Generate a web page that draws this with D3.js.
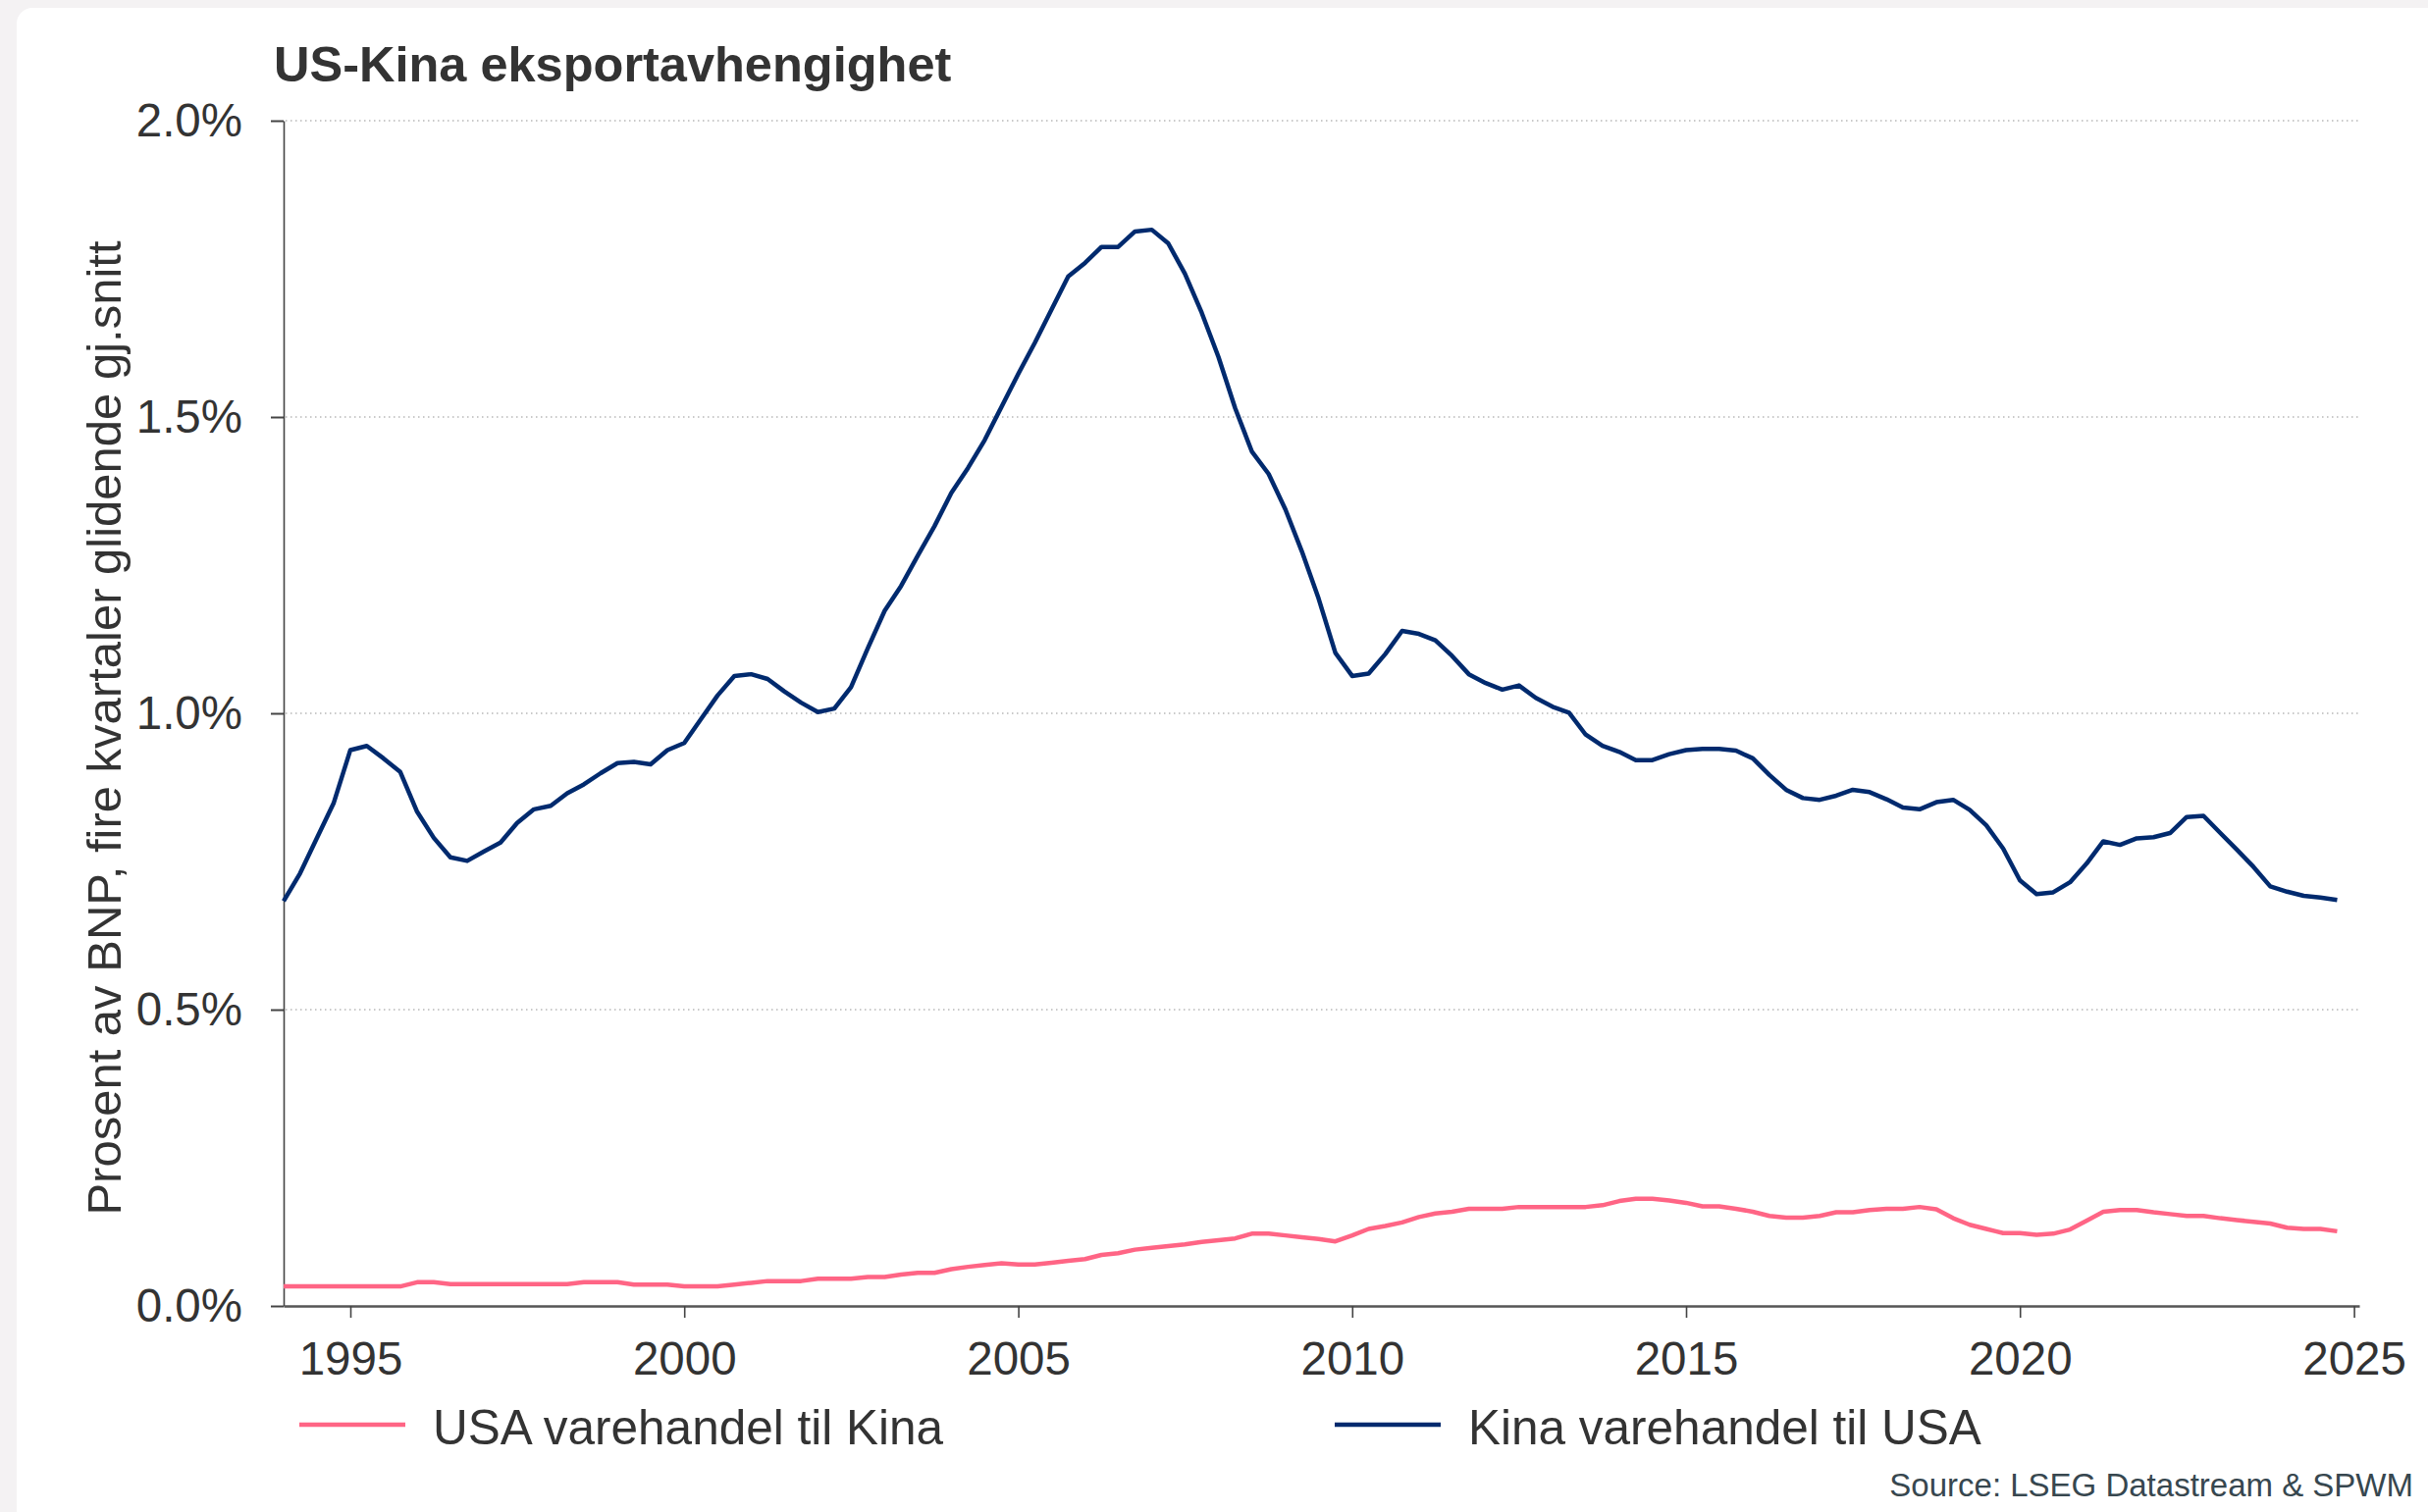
<!DOCTYPE html>
<html>
<head>
<meta charset="utf-8">
<script src="https://cdn.jsdelivr.net/npm/d3@7"></script>
<style>
  body { margin: 0; background: #f4f2f3; overflow: hidden; }
  text { font-family: "Liberation Sans", Arial, sans-serif; }
</style>
</head>
<body>
<div id="chart"></div>
<script>
// quarterly, 1994 Q1 .. 2024 Q4, percent of GDP (4q rolling avg)
let usaToChina = [
  0.033, 0.033, 0.033, 0.033,  0.033, 0.033, 0.033, 0.033,
  0.040, 0.040, 0.037, 0.037,  0.037, 0.037, 0.037, 0.037,
  0.037, 0.037, 0.040, 0.040,  0.040, 0.036, 0.036, 0.036,
  0.033, 0.033, 0.033, 0.036,  0.039, 0.042, 0.042, 0.042,
  0.046, 0.046, 0.046, 0.049,  0.049, 0.053, 0.056, 0.056,
  0.062, 0.066, 0.069, 0.072,  0.070, 0.070, 0.073, 0.076,
  0.079, 0.086, 0.089, 0.095,  0.098, 0.101, 0.104, 0.108,
  0.111, 0.114, 0.122, 0.122,  0.119, 0.116, 0.113, 0.109,
  0.119, 0.130, 0.135, 0.141,  0.150, 0.156, 0.159, 0.164,
  0.164, 0.164, 0.167, 0.167,  0.167, 0.167, 0.167, 0.170,
  0.177, 0.181, 0.181, 0.178,  0.174, 0.168, 0.168, 0.164,
  0.159, 0.152, 0.149, 0.149,  0.152, 0.158, 0.158, 0.162,
  0.164, 0.164, 0.167, 0.163,  0.148, 0.137, 0.130, 0.123,
  0.123, 0.120, 0.122, 0.129,  0.144, 0.159, 0.162, 0.162,
  0.158, 0.155, 0.152, 0.152,  0.148, 0.145, 0.142, 0.139,
  0.132, 0.130, 0.130, 0.126
]

let chinaToUsa = [
  0.683, 0.730, 0.789, 0.848,  0.938, 0.945, 0.924, 0.901,
  0.834, 0.790, 0.757, 0.751,  0.767, 0.782, 0.815, 0.838,
  0.844, 0.865, 0.880, 0.899,  0.916, 0.918, 0.914, 0.938,
  0.950, 0.990, 1.030, 1.063,  1.066, 1.058, 1.037, 1.018,
  1.002, 1.008, 1.044, 1.110,  1.173, 1.215, 1.266, 1.316,
  1.372, 1.414, 1.461, 1.517,  1.573, 1.625, 1.681, 1.737,
  1.760, 1.787, 1.787, 1.813,  1.816, 1.793, 1.742, 1.676,
  1.601, 1.515, 1.442, 1.404,  1.344, 1.273, 1.194, 1.102,
  1.063, 1.067, 1.100, 1.139,  1.134, 1.123, 1.097, 1.066,
  1.051, 1.040, 1.047, 1.026,  1.011, 1.001, 0.964, 0.945,
  0.935, 0.921, 0.921, 0.931,  0.938, 0.940, 0.940, 0.937,
  0.924, 0.896, 0.871, 0.857,  0.854, 0.861, 0.871, 0.867,
  0.855, 0.841, 0.838, 0.850,  0.854, 0.837, 0.811, 0.772,
  0.718, 0.695, 0.698, 0.715,  0.747, 0.784, 0.778, 0.789,
  0.791, 0.798, 0.825, 0.827,  0.798, 0.770, 0.741, 0.708,
  0.699, 0.692, 0.689, 0.685
]

let yearTicks = [1995, 2000, 2005, 2010, 2015, 2020, 2025]
let pctTicks = [0, 0.5, 1.0, 1.5, 2.0]

let series = [
  { name: 'USA varehandel til Kina', values: usaToChina, color: '#ff6585' },
  { name: 'Kina varehandel til USA', values: chinaToUsa, color: '#002a6e' }
]

let quarters = d3.timeMonth.range(new Date(1994, 0, 1), new Date(2025, 0, 1), 3)

let width = 2474, height = 1541

let svg = d3.select('#chart')
  .append('svg')
  .attr('width', width)
  .attr('height', height)

// white card
svg.append('rect')
  .attr('x', 17).attr('y', 8)
  .attr('width', width + 40).attr('height', height + 40)
  .attr('rx', 16)
  .attr('fill', '#ffffff')

let x = d3.scaleTime()
  .domain([new Date(1994, 0, 1), new Date(2025, 0, 30)])
  .range([289, 2404])

let y = d3.scaleLinear()
  .domain([0, 2])
  .range([1331, 123])

// grid
svg.append('g')
  .selectAll('line')
  .data(pctTicks.filter(d => d > 0))
  .join('line')
    .attr('x1', x.range()[0] + 2)
    .attr('x2', x.range()[1])
    .attr('y1', d => y(d))
    .attr('y2', d => y(d))
    .attr('stroke', '#b8b8b8')
    .attr('stroke-width', 1.5)
    .attr('stroke-dasharray', '1.5,3.5')

// y axis
svg.append('g')
  .attr('transform', `translate(${x.range()[0]}, 0)`)
  .call(d3.axisLeft(y)
    .tickValues(pctTicks)
    .tickFormat(d => d.toFixed(1) + '%')
    .tickSize(13)
    .tickSizeOuter(0)
    .tickPadding(29))
  .call(g => g.select('.domain').attr('stroke', '#444').attr('stroke-width', 1.6))
  .call(g => g.selectAll('.tick line').attr('stroke', '#444').attr('stroke-width', 2))
  .call(g => g.selectAll('.tick text')
    .attr('font-size', 47.5)
    .attr('font-family', '"Liberation Sans", Arial, sans-serif')
    .attr('fill', '#333'))

// x axis
svg.append('g')
  .attr('transform', `translate(0, ${y(0)})`)
  .call(d3.axisBottom(x)
    .tickValues(yearTicks.map(yr => new Date(yr, 0, 1)))
    .tickFormat(d3.timeFormat('%Y'))
    .tickSize(12)
    .tickSizeOuter(0)
    .tickPadding(24))
  .call(g => g.select('.domain').attr('stroke', '#555').attr('stroke-width', 2.6))
  .call(g => g.selectAll('.tick line').attr('stroke', '#444').attr('stroke-width', 1.6))
  .call(g => g.selectAll('.tick text')
    .attr('font-size', 47.5)
    .attr('font-family', '"Liberation Sans", Arial, sans-serif')
    .attr('fill', '#333'))

// lines
let line = d3.line()
  .x((d, i) => x(quarters[i]))
  .y(d => y(d))

svg.append('g')
  .selectAll('path')
  .data(series)
  .join('path')
    .attr('d', s => line(s.values))
    .attr('fill', 'none')
    .attr('stroke', s => s.color)
    .attr('stroke-width', 4.5)
    .attr('stroke-linejoin', 'round')

// title
svg.append('text')
  .attr('x', 279)
  .attr('y', 83)
  .attr('font-size', 50.5)
  .attr('font-weight', 'bold')
  .attr('fill', '#333')
  .text('US-Kina eksportavhengighet')

// y label
svg.append('text')
  .attr('transform', 'translate(123, 742) rotate(-90)')
  .attr('text-anchor', 'middle')
  .attr('font-size', 49)
  .attr('fill', '#333')
  .text('Prosent av BNP, fire kvartaler glidende gj.snitt')

// legend
let legendX = [305, 1360]
let legend = svg.append('g')
  .selectAll('g')
  .data(series)
  .join('g')
    .attr('transform', (s, i) => `translate(${legendX[i]}, 1452)`)

legend.append('line')
  .attr('x1', 0).attr('x2', 108)
  .attr('stroke', s => s.color)
  .attr('stroke-width', 4.5)

legend.append('text')
  .attr('x', 136)
  .attr('y', 20)
  .attr('font-size', 49.5)
  .attr('fill', '#333')
  .text(s => s.name)

// source
svg.append('text')
  .attr('x', 2459)
  .attr('y', 1525)
  .attr('text-anchor', 'end')
  .attr('font-size', 33)
  .attr('fill', '#37474f')
  .text('Source: LSEG Datastream & SPWM')
</script>
</body>
</html>
